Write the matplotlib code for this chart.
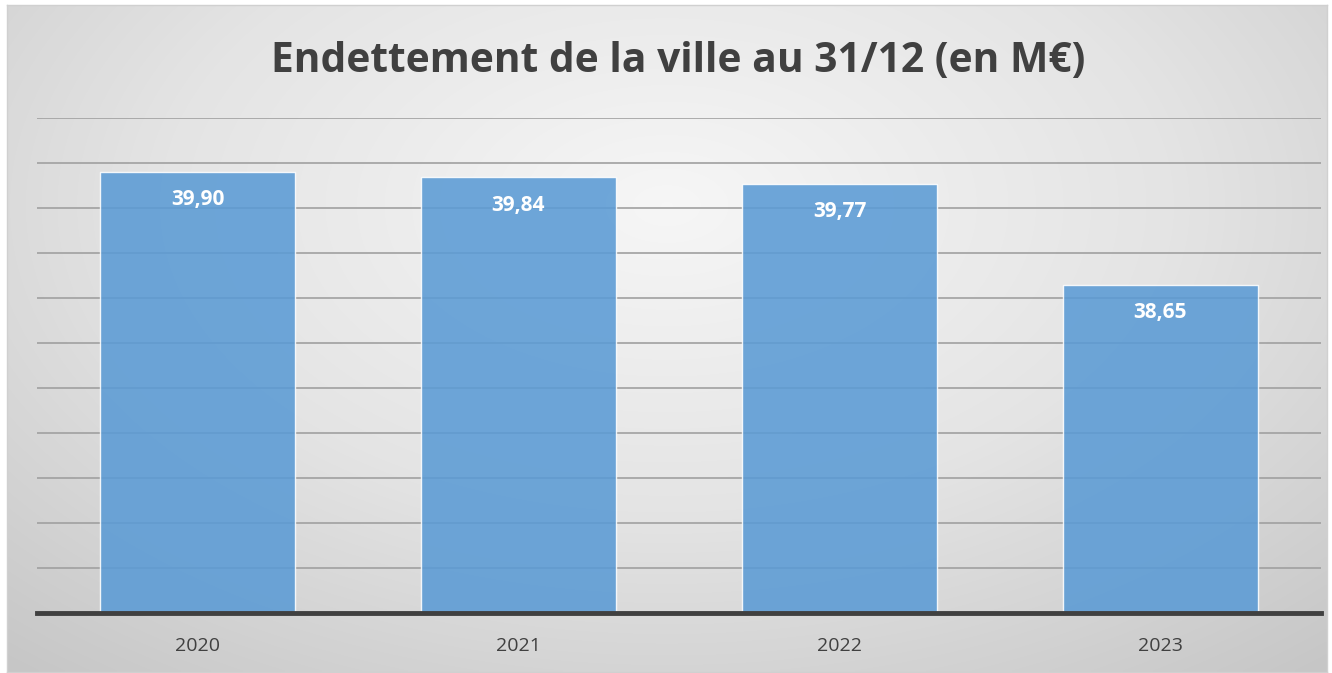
import matplotlib.pyplot as plt
import numpy as np
from matplotlib.colors import LinearSegmentedColormap

years = ['2020', '2021', '2022', '2023']
debt = [39.90, 39.84, 39.77, 38.65]
labels = ['39,90', '39,84', '39,77', '38,65']

W, H = 1332, 673
fig = plt.figure(figsize=(W / 100, H / 100), dpi=100)
fig.patch.set_facecolor('white')

# background panel with radial gradient
bg = fig.add_axes([7 / W, 1 - 672 / H, 1320 / W, 667 / H])
xx, yy = np.meshgrid(np.linspace(0, 1, 400), np.linspace(0, 1, 200))
r = np.sqrt(((xx - 0.5) / 0.75) ** 2 + ((yy - 0.3) / 0.9) ** 2)
r = np.clip(r / r.max(), 0, 1)
cmap = LinearSegmentedColormap.from_list('bg', ['#f6f6f6', '#e4e4e4', '#c6c6c6'])
bg.imshow(r, cmap=cmap, aspect='auto', extent=(0, 1, 1, 0), interpolation='bilinear')
bg.set_xticks([])
bg.set_yticks([])
for s in bg.spines.values():
    s.set_color('#d0d0d0')
    s.set_linewidth(1)

ax = fig.add_axes([37 / W, 1 - 613 / H, (1321 - 37) / W, (613 - 118) / H])
ax.patch.set_alpha(0)
x = np.arange(len(years))
bars = ax.bar(x, debt, width=0.607, color='#5b9bd5', alpha=0.88,
              edgecolor='white', linewidth=1, zorder=3)
ax.set_xlim(-0.5, 3.5)
ax.set_ylim(35, 40.5)
ax.set_yticks(np.arange(35.5, 40.51, 0.5))
ax.yaxis.grid(True, color='#a0a0a0', linewidth=1.2, zorder=1)
ax.tick_params(axis='y', left=False, labelleft=False)
ax.tick_params(axis='x', bottom=False, labelsize=14, labelcolor='#404040', pad=14)
ax.set_xticks(x)
ax.set_xticklabels(years, family='Open Sans')
for side in ['top', 'left', 'right']:
    ax.spines[side].set_visible(False)
ax.spines['bottom'].set_color('#404040')
ax.spines['bottom'].set_linewidth(3.5)
ax.spines['bottom'].set_zorder(4)

for xi, v, lab in zip(x, debt, labels):
    ax.annotate(lab, (xi, v), xytext=(0, -20), textcoords='offset points',
                ha='center', va='center', color='white', fontsize=15,
                fontweight='bold', family='Open Sans', zorder=5)

fig.text(678 / W, 1 - 61 / H, 'Endettement de la ville au 31/12 (en M€)',
         ha='center', va='center', fontsize=29.3, fontweight='bold',
         color='#404040', family='Open Sans')

fig.savefig('out.png', dpi=100)
